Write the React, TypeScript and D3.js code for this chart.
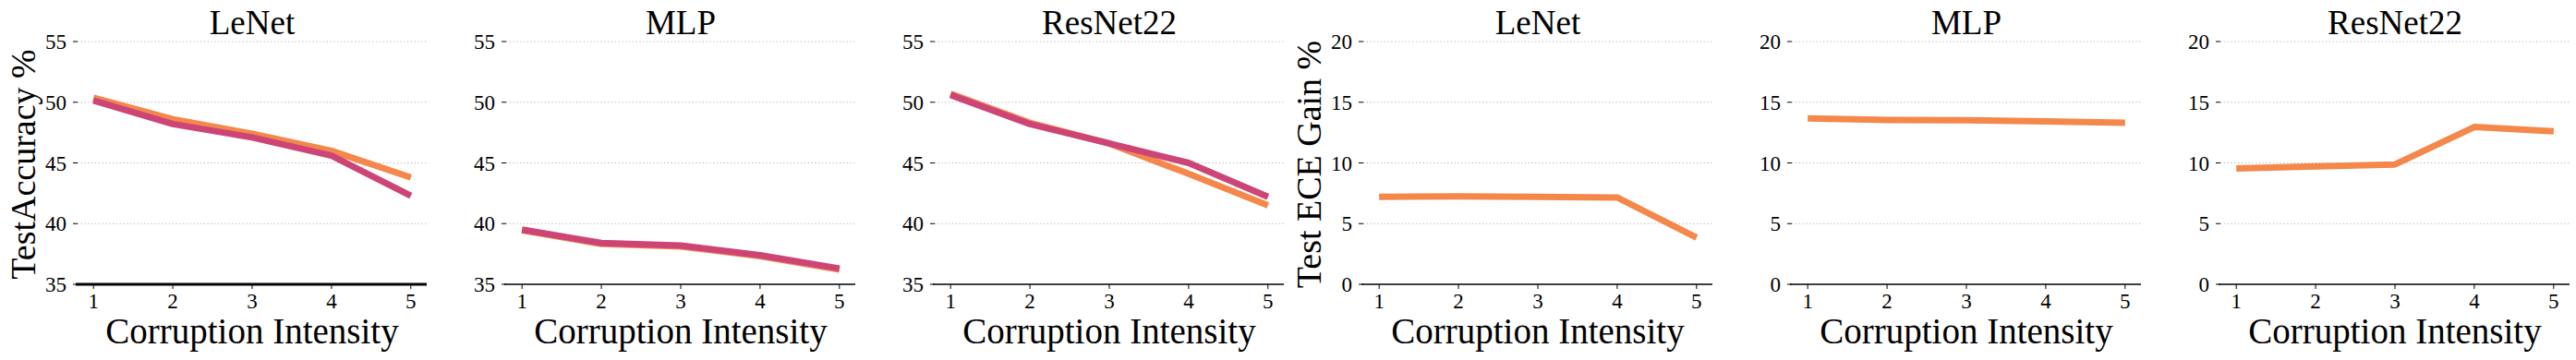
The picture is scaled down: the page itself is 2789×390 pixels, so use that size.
import React from "react";
import * as d3 from "d3";

const intensities = [1, 2, 3, 4, 5];
const panelTitles = ["LeNet", "MLP", "ResNet22", "LeNet", "MLP", "ResNet22"];

// Accuracy panels (orange, magenta)
const accLeNetA = [50.37, 48.6, 47.4, 46.0, 43.8];
const accLeNetB = [50.14, 48.2, 47.1, 45.6, 42.3];
const accMLPA = [39.45, 38.33, 38.12, 37.32, 36.22];
const accMLPB = [39.5, 38.4, 38.2, 37.4, 36.3];
const accResA = [50.7, 48.3, 46.6, 44.1, 41.5];
const accResB = [50.6, 48.2, 46.6, 45.0, 42.2];

// ECE gain panels (orange only)
const eceLeNet = [7.2, 7.25, 7.2, 7.15, 3.85];
const eceMLP = [13.67, 13.54, 13.52, 13.42, 13.3];
const eceRes = [9.54, 9.72, 9.87, 12.96, 12.6];

const accTicks = [35, 40, 45, 50, 55];
const eceTicks = [0, 5, 10, 15, 20];

const ORANGE = "#F4874A";
const MAGENTA = "#CC4576";
const FONT = "'Liberation Serif', 'DejaVu Serif', serif";

type Panel = {
  title: string;
  series: { values: number[]; color: string }[];
  domain: [number, number];
  ticks: number[];
  ylabel?: string;
  spineW: number;
};

const panels: Panel[] = [
  { title: panelTitles[0], series: [{ values: accLeNetA, color: ORANGE }, { values: accLeNetB, color: MAGENTA }], domain: [35, 55], ticks: accTicks, ylabel: "TestAccuracy %", spineW: 3 },
  { title: panelTitles[1], series: [{ values: accMLPA, color: ORANGE }, { values: accMLPB, color: MAGENTA }], domain: [35, 55], ticks: accTicks, spineW: 1.6 },
  { title: panelTitles[2], series: [{ values: accResA, color: ORANGE }, { values: accResB, color: MAGENTA }], domain: [35, 55], ticks: accTicks, spineW: 1.6 },
  { title: panelTitles[3], series: [{ values: eceLeNet, color: ORANGE }], domain: [0, 20], ticks: eceTicks, ylabel: "Test ECE Gain %", spineW: 1.6 },
  { title: panelTitles[4], series: [{ values: eceMLP, color: ORANGE }], domain: [0, 20], ticks: eceTicks, spineW: 1.6 },
  { title: panelTitles[5], series: [{ values: eceRes, color: ORANGE }], domain: [0, 20], ticks: eceTicks, spineW: 1.6 },
];

const W = 2789;
const H = 390;
const TOP = 45;
const BOTTOM = 308;
const AX_W = 378;
const FIRST_LEFT = 84;
const STEP = 464;

function PanelView({ p, left }: { p: Panel; left: number }) {
  const x = d3.scaleLinear().domain([0.8, 5.2]).range([left, left + AX_W]);
  const y = d3.scaleLinear().domain(p.domain).range([BOTTOM, TOP]);
  const line = d3
    .line<number>()
    .x((_, i) => x(intensities[i]))
    .y((v) => y(v));
  const cx = left + AX_W / 2;
  return (
    <g>
      {p.ticks.map((t) => (
        <g key={t}>
          {t !== p.domain[0] && (
            <line x1={left} x2={left + AX_W} y1={y(t)} y2={y(t)} stroke="#b0b0b0" strokeWidth={1} strokeDasharray="1.2,2.6" />
          )}
          <line x1={left - 5} x2={left} y1={y(t)} y2={y(t)} stroke="#000" strokeWidth={1} />
          <text x={left - 12} y={y(t)} dy="0.35em" textAnchor="end" fontSize={23} fontFamily={FONT} fill="#000">
            {t}
          </text>
        </g>
      ))}
      {p.series.map((s, i) => (
        <path key={i} d={line(s.values) || ""} fill="none" stroke={s.color} strokeWidth={7} strokeLinejoin="round" strokeLinecap="butt" />
      ))}
      <line x1={left - 2} x2={left + AX_W} y1={BOTTOM} y2={BOTTOM} stroke="#000" strokeWidth={p.spineW} />
      {intensities.map((v) => (
        <g key={v}>
          <line x1={x(v)} x2={x(v)} y1={BOTTOM} y2={BOTTOM + 5} stroke="#000" strokeWidth={1} />
          <text x={x(v)} y={334} textAnchor="middle" fontSize={23} fontFamily={FONT} fill="#000">
            {v}
          </text>
        </g>
      ))}
      <text x={cx} y={37} textAnchor="middle" fontSize={37} fontFamily={FONT} fill="#000">
        {p.title}
      </text>
      <text x={cx} y={372} textAnchor="middle" fontSize={39} fontFamily={FONT} fill="#000">
        Corruption Intensity
      </text>
      {p.ylabel && (
        <text
          transform={`translate(${left - 46},${178}) rotate(-90)`}
          textAnchor="middle"
          fontSize={38}
          fontFamily={FONT}
          fill="#000"
        >
          {p.ylabel}
        </text>
      )}
    </g>
  );
}

export default function App() {
  return (
    <svg width={W} height={H} style={{ position: "absolute", left: 0, top: 0, background: "#fff" }}>
      <rect width={W} height={H} fill="#fff" />
      {panels.map((p, i) => (
        <PanelView key={i} p={p} left={FIRST_LEFT + STEP * i} />
      ))}
    </svg>
  );
}
